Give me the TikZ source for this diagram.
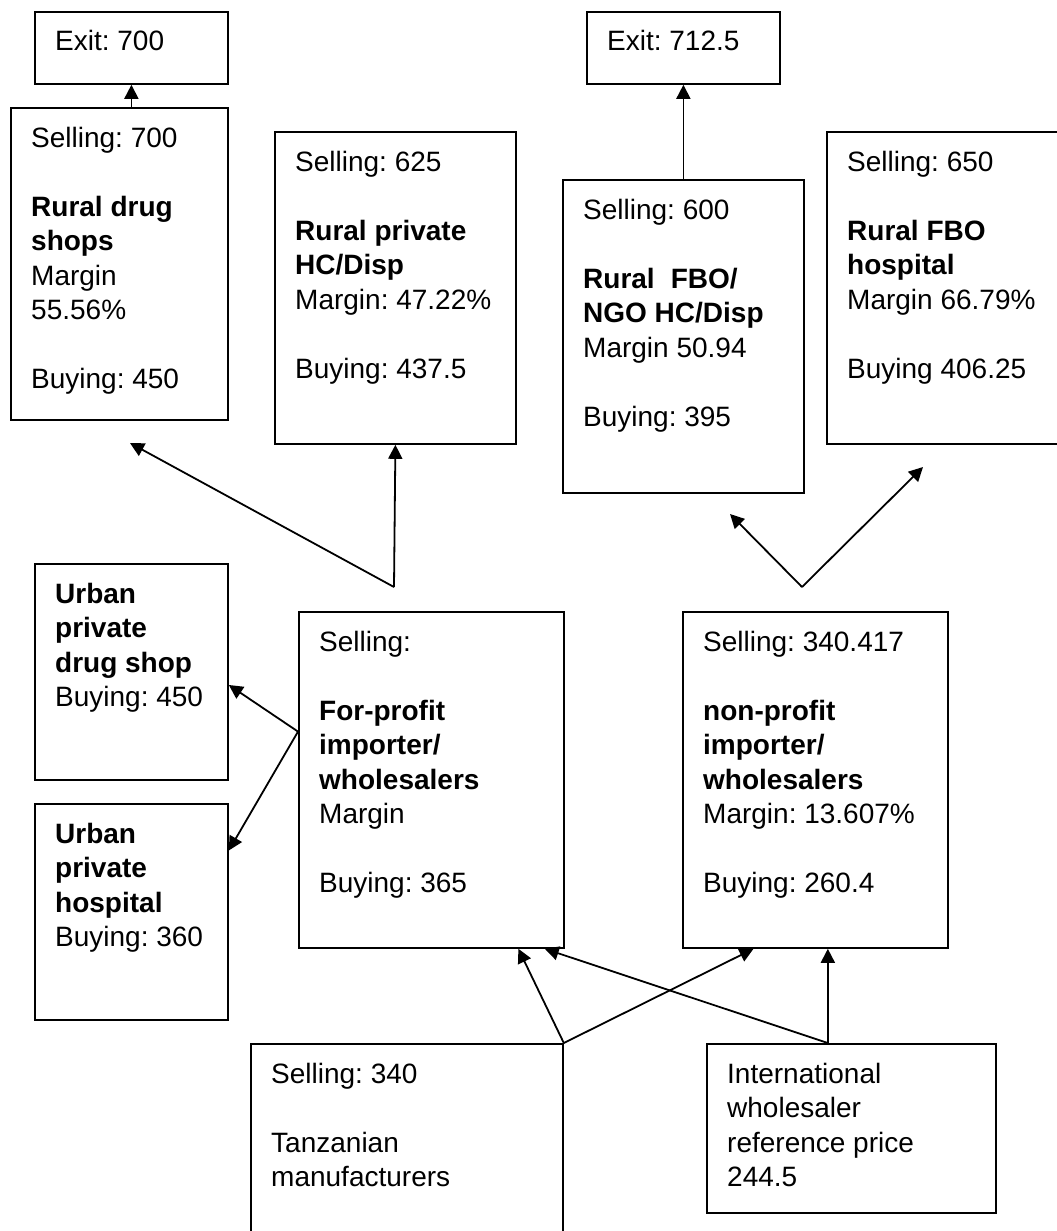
\documentclass[tikz,border=0pt]{standalone}
\usepackage{fontspec}
\setmainfont{Liberation Sans}
\usetikzlibrary{arrows.meta,calc}

% a framed box with its text set from the top-left corner
\newcommand\mkbox[6]{%
  \node[box,minimum width=#4pt,minimum height=#5pt] (#1) at (#2,#3) {};
  \node[txt] (#1-t) at ([shift={(21pt,-40pt)}]#1.north west) {\parbox[t]{#4pt}{\frenchspacing#6}};
}
\newcommand\gap{\\[34.5pt]}

\begin{document}
\begin{tikzpicture}[x=1pt,y=-1pt,
  box/.style={draw,line width=1.8pt,anchor=north west,inner sep=0pt},
  txt/.style={anchor=base west,inner sep=0pt,font=\fontsize{28pt}{34.5pt}\selectfont},
  arr/.style={line width=1.8pt,-{Triangle[length=14pt,width=14pt]}}]

\fill[white] (0,0) rectangle (1057,1231);
\useasboundingbox (0,0) rectangle (1057,1231);

% retail level and exit prices
\mkbox{exitA}{34}{11}{193}{72}{Exit: 700}
\mkbox{rds}{10}{107}{217}{312}{Selling: 700\gap\textbf{Rural drug}\\\textbf{shops}\\Margin\\55.56\%\gap Buying: 450}
\mkbox{rpv}{274}{131}{241}{312}{Selling: 625\gap\textbf{Rural private}\\\textbf{HC/Disp}\\Margin: 47.22\%\gap Buying: 437.5}
\mkbox{exitB}{586}{11}{193}{72}{Exit: 712.5}
\mkbox{ngo}{562}{179}{241}{313}{Selling: 600\gap\textbf{Rural\hspace{16pt}FBO/}\\\textbf{NGO HC/Disp}\\Margin 50.94\gap Buying: 395}
\mkbox{fbo}{826}{131}{245}{312}{Selling: 650\gap\textbf{Rural FBO}\\\textbf{hospital}\\Margin 66.79\%\gap Buying 406.25}

% urban outlets
\mkbox{uds}{34}{563}{193}{216}{\textbf{Urban}\\\textbf{private}\\\textbf{drug shop}\\Buying: 450}
\mkbox{uph}{34}{803}{193}{216}{\textbf{Urban}\\\textbf{private}\\\textbf{hospital}\\Buying: 360}

% wholesale level
\mkbox{fp}{298}{611}{265}{336}{Selling:\gap\textbf{For-profit}\\\textbf{importer/}\\\textbf{wholesalers}\\Margin\gap Buying: 365}
\mkbox{np}{682}{611}{265}{336}{Selling: 340.417\gap\textbf{non-profit}\\\textbf{importer/}\\\textbf{wholesalers}\\Margin: 13.607\%\gap Buying: 260.4}

% sources
\mkbox{tz}{250}{1043}{312}{230}{Selling: 340\gap Tanzanian\\manufacturers}
\mkbox{iw}{706}{1043}{289}{169}{International\\wholesaler\\reference price\\244.5}

% connectors
\draw[arr] (exitA.south |- rds.north) -- (exitA.south);
\draw[arr] (ngo.north) -- (exitB.south);

\coordinate (apexA) at (394,587);
\coordinate (tipA) at (130,443);
\draw[arr] (apexA) -- (rpv.south);
\draw[arr] (apexA) -- (tipA);

\coordinate (apexB) at (802,587);
\coordinate (tipB1) at (730,514);
\coordinate (tipB2) at (923,467);
\draw[arr] (apexB) -- (tipB1);
\draw[arr] (apexB) -- (tipB2);

\coordinate (fpOut) at ($(fp.north west)!0.357!(fp.south west)$);
\draw[arr] (fpOut) -- ($(uds.north east)!0.56!(uds.south east)$);
\draw[arr] (fpOut) -- ($(uph.north east)!0.218!(uph.south east)$);

\draw[arr] (tz.north east) -- ($(fp.south west)!0.826!(fp.south east)$);
\draw[arr] (tz.north east) -- ($(np.south west)!0.268!(np.south east)$);

\coordinate (iwOut) at ($(iw.north west)!0.419!(iw.north east)$);
\draw[arr] (iwOut) -- ($(fp.south west)!0.925!(fp.south east)$);
\draw[arr] (iwOut) -- (iwOut |- np.south);

\end{tikzpicture}
\end{document}
